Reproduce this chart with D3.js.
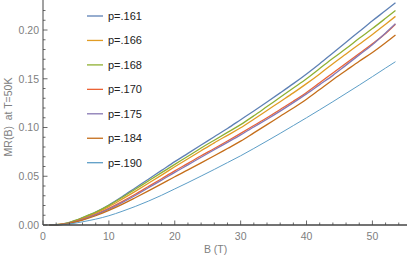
<!DOCTYPE html>
<html>
<head>
<meta charset="utf-8">
<script src="https://cdn.jsdelivr.net/npm/d3@7"></script>
<style>
  body { margin: 0; background: white; }
  text { font-family: "Liberation Sans", Arial, sans-serif; }
</style>
</head>
<body>
<svg id="chart"></svg>
<script>
// field values (T)
var fields = [1, 2, 3, 4, 5, 6, 8, 10, 12, 14, 16, 18, 20, 22, 24, 26, 28, 30,
              32, 34, 36, 38, 40, 42, 44, 46, 48, 50, 52, 53.5];

var dopings = ["p=.161", "p=.166", "p=.168", "p=.170", "p=.175", "p=.184", "p=.190"];

var mr161 = [0, 0.0003, 0.0010, 0.0025, 0.0048, 0.0075, 0.0132, 0.0205, 0.0290, 0.0380,
             0.0470, 0.0560, 0.0650, 0.0735, 0.0820, 0.0905, 0.0990, 0.1080,
             0.1170, 0.1262, 0.1355, 0.1450, 0.1550, 0.1655, 0.1765, 0.1875,
             0.1985, 0.2095, 0.2200, 0.2280];
var mr166 = [0, 0.0003, 0.0010, 0.0023, 0.0043, 0.0068, 0.0122, 0.0188, 0.0265, 0.0345,
             0.0428, 0.0512, 0.0597, 0.0680, 0.0762, 0.0843, 0.0920, 0.0997,
             0.1085, 0.1175, 0.1265, 0.1355, 0.1450, 0.1550, 0.1655, 0.1755,
             0.1855, 0.1955, 0.2060, 0.2140];
var mr168 = [0, 0.0004, 0.0012, 0.0027, 0.0050, 0.0076, 0.0132, 0.0202, 0.0282, 0.0367,
             0.0452, 0.0537, 0.0622, 0.0705, 0.0790, 0.0870, 0.0950, 0.1030,
             0.1120, 0.1215, 0.1310, 0.1405, 0.1500, 0.1605, 0.1710, 0.1810,
             0.1915, 0.2015, 0.2120, 0.2200];
var mr170 = [0, 0.0002, 0.0008, 0.0020, 0.0038, 0.0060, 0.0110, 0.0170, 0.0240, 0.0315,
             0.0395, 0.0475, 0.0555, 0.0632, 0.0710, 0.0785, 0.0862, 0.0940,
             0.1020, 0.1100, 0.1185, 0.1270, 0.1360, 0.1460, 0.1560, 0.1660,
             0.1760, 0.1860, 0.1965, 0.2060];
var mr175 = [0, 0.0002, 0.0007, 0.0018, 0.0035, 0.0056, 0.0104, 0.0162, 0.0230, 0.0303,
             0.0382, 0.0460, 0.0540, 0.0617, 0.0695, 0.0772, 0.0848, 0.0925,
             0.1005, 0.1085, 0.1168, 0.1255, 0.1345, 0.1440, 0.1535, 0.1640,
             0.1745, 0.1850, 0.1970, 0.2065];
var mr184 = [0, 0.0002, 0.0007, 0.0017, 0.0032, 0.0051, 0.0095, 0.0150, 0.0212, 0.0280,
             0.0350, 0.0422, 0.0495, 0.0565, 0.0637, 0.0710, 0.0785, 0.0860,
             0.0945, 0.1030, 0.1115, 0.1200, 0.1290, 0.1390, 0.1490, 0.1585,
             0.1680, 0.1770, 0.1870, 0.1950];
var mr190 = [0, 0.0001, 0.0004, 0.0010, 0.0020, 0.0033, 0.0060, 0.0095, 0.0140, 0.0190,
             0.0245, 0.0305, 0.0370, 0.0435, 0.0502, 0.0570, 0.0640, 0.0710,
             0.0785, 0.0862, 0.0940, 0.1020, 0.1100, 0.1182, 0.1265, 0.1350,
             0.1435, 0.1522, 0.1610, 0.1675];

var xTicks = [0, 10, 20, 30, 40, 50];
var yTicks = [0.00, 0.05, 0.10, 0.15, 0.20];

var colors = ["#5E81B5", "#E19C24", "#8FB032", "#EB6235", "#8778B3", "#C56E1A", "#5D9EC7"];

var initChart = function()
{
    var screen = {width:407, height:259};
    var margins = {top:0, bottom:34, left:43, right:0};
    var graph = {
        width:screen.width-margins.left-margins.right,
        height:screen.height-margins.top-margins.bottom
    };

    var svg = d3.select("svg#chart")
        .attr("width",screen.width)
        .attr("height",screen.height);

    var xScale = d3.scaleLinear()
        .domain([0, 55.25])
        .range([margins.left, margins.left+graph.width]);
    var yScale = d3.scaleLinear()
        .domain([0, 0.2308])
        .range([margins.top+graph.height, margins.top]);

    var series = [mr161, mr166, mr168, mr170, mr175, mr184, mr190];

    //curves
    var lineGenerator = d3.line()
        .x(function(d,i){ return xScale(fields[i]); })
        .y(function(d){ return yScale(d); })
        .curve(d3.curveMonotoneX);

    svg.append("g")
        .selectAll("path")
        .data(series)
        .enter()
        .append("path")
        .attr("d",lineGenerator)
        .attr("fill","none")
        .attr("stroke",function(d,i){ return colors[i]; })
        .attr("stroke-width",function(d,i){ return i==6 ? 1 : 1.3; });

    //axes
    var axisColor = "#444";
    var labelColor = "#808080";
    var axes = svg.append("g");
    var y0 = yScale(0);

    //minor ticks
    var xMinor = d3.range(0, 55, 2).filter(function(v){ return v%10 != 0; });
    axes.selectAll("line.xminor")
        .data(xMinor).enter().append("line")
        .attr("x1",function(d){ return xScale(d); })
        .attr("x2",function(d){ return xScale(d); })
        .attr("y1",y0).attr("y2",y0-2.5)
        .attr("stroke",axisColor).attr("stroke-width",0.8);
    axes.selectAll("line.xmajor")
        .data(xTicks).enter().append("line")
        .attr("x1",function(d){ return xScale(d); })
        .attr("x2",function(d){ return xScale(d); })
        .attr("y1",y0).attr("y2",y0-4.5)
        .attr("stroke",axisColor).attr("stroke-width",0.8);

    var yMinor = d3.range(1, 23).map(function(v){ return v/100; })
        .filter(function(v){ return Math.round(v*100)%5 != 0; });
    axes.selectAll("line.yminor")
        .data(yMinor).enter().append("line")
        .attr("x1",margins.left).attr("x2",margins.left+2.5)
        .attr("y1",function(d){ return yScale(d); })
        .attr("y2",function(d){ return yScale(d); })
        .attr("stroke",axisColor).attr("stroke-width",0.8);
    axes.selectAll("line.ymajor")
        .data(yTicks).enter().append("line")
        .attr("x1",margins.left).attr("x2",margins.left+4.5)
        .attr("y1",function(d){ return yScale(d); })
        .attr("y2",function(d){ return yScale(d); })
        .attr("stroke",axisColor).attr("stroke-width",0.8);

    //axis lines
    axes.append("line")
        .attr("x1",margins.left).attr("x2",screen.width)
        .attr("y1",y0).attr("y2",y0)
        .attr("stroke",axisColor).attr("stroke-width",1.6);
    axes.append("line")
        .attr("x1",margins.left).attr("x2",margins.left)
        .attr("y1",0).attr("y2",y0)
        .attr("stroke",axisColor).attr("stroke-width",1);

    //tick labels
    axes.selectAll("text.xlab")
        .data(xTicks).enter().append("text")
        .text(function(d){ return d; })
        .attr("x",function(d){ return xScale(d); })
        .attr("y",y0+15)
        .attr("text-anchor","middle")
        .attr("font-size",10.5)
        .attr("fill",labelColor);
    axes.selectAll("text.ylab")
        .data(yTicks).enter().append("text")
        .text(function(d){ return d.toFixed(2); })
        .attr("x",margins.left-4)
        .attr("y",function(d){ return yScale(d)+3.8; })
        .attr("text-anchor","end")
        .attr("font-size",10.5)
        .attr("fill",labelColor);

    //axis titles
    svg.append("text")
        .text("B (T)")
        .attr("x",xScale(26.2))
        .attr("y",253)
        .attr("text-anchor","middle")
        .attr("font-size",10.5)
        .attr("fill",labelColor);
    svg.append("g")
        .attr("transform","translate(12,117)")
        .append("text")
        .text("MR(B)  at T=50K")
        .attr("text-anchor","middle")
        .attr("transform","rotate(-90)")
        .attr("font-size",10.5)
        .attr("fill",labelColor)
        .attr("xml:space","preserve")
        .style("white-space","pre");

    //legend
    var legend = svg.append("g")
        .selectAll("g")
        .data(dopings)
        .enter()
        .append("g")
        .attr("transform",function(d,i){ return "translate(87,"+(16+i*24.45)+")"; });
    legend.append("line")
        .attr("x1",0).attr("x2",16)
        .attr("y1",0).attr("y2",0)
        .attr("stroke",function(d,i){ return colors[i]; })
        .attr("stroke-width",1.3);
    legend.append("text")
        .text(function(d){ return d; })
        .attr("x",21)
        .attr("y",4)
        .attr("font-size",11)
        .attr("fill","#222");
}

initChart();
</script>
</body>
</html>
